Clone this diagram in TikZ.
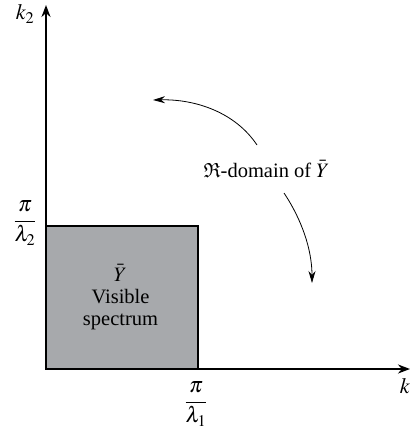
\documentclass[tikz,border=0pt]{standalone}
\usepackage{amsmath,amssymb}
\usepackage{mathptmx}
\usepackage{fontspec}
\setmainfont{Liberation Serif}
\usetikzlibrary{arrows.meta}
\definecolor{boxgray}{RGB}{167,169,172}
\begin{document}
\begin{tikzpicture}[x=1pt,y=-1pt,
  axis/.style={line width=2pt,-{Stealth[length=12pt,width=9pt]}},
  curvearrow/.style={line width=0.8pt,-{Stealth[length=12pt,width=7pt]}},
  lbl/.style={inner sep=0pt,font=\fontsize{20.5}{22}\selectfont},
  mlbl/.style={inner sep=0pt,font=\fontsize{22}{26}\selectfont},
  boxstyle/.style={draw=black,line width=2pt,fill=boxgray}]
\useasboundingbox (0,0) rectangle (411,432);
\coordinate (O) at (46,369);
\coordinate (ytip) at (46,5);
\coordinate (xtip) at (410,369);
\coordinate (boxtr) at (198,226);
\filldraw[boxstyle] (O) rectangle (boxtr);
\draw[axis] (O) -- (ytip);
\draw[axis] (O) -- (xtip);
\node[mlbl] (k2) at (25,14) {$k_2$};
\node[mlbl] (k) at (405,386) {$k$};
\node[mlbl] (l2) at (25,223) {$\dfrac{\pi}{\lambda_2}$};
\node[mlbl] (l1) at (196,404) {$\dfrac{\pi}{\lambda_1}$};
\node[lbl,anchor=base] (ybar) at (120.5,281) {$\bar{Y}$};
\node[lbl,anchor=base] (vis) at (120.5,303) {Visible};
\node[lbl,anchor=base] (spec) at (120.5,325) {spectrum};
\node[lbl,anchor=base] (dom) at (266.5,177) {$\mathfrak{R}$-domain of $\bar{Y}$};
\coordinate (a1s) at (257,145);
\coordinate (a1e) at (153,100);
\coordinate (a2s) at (284,193);
\coordinate (a2e) at (312,283);
\draw[curvearrow] (a1s) .. controls (235,112) and (195,99) .. (a1e);
\draw[curvearrow] (a2s) .. controls (302,220) and (312,250) .. (a2e);
\end{tikzpicture}
\end{document}
